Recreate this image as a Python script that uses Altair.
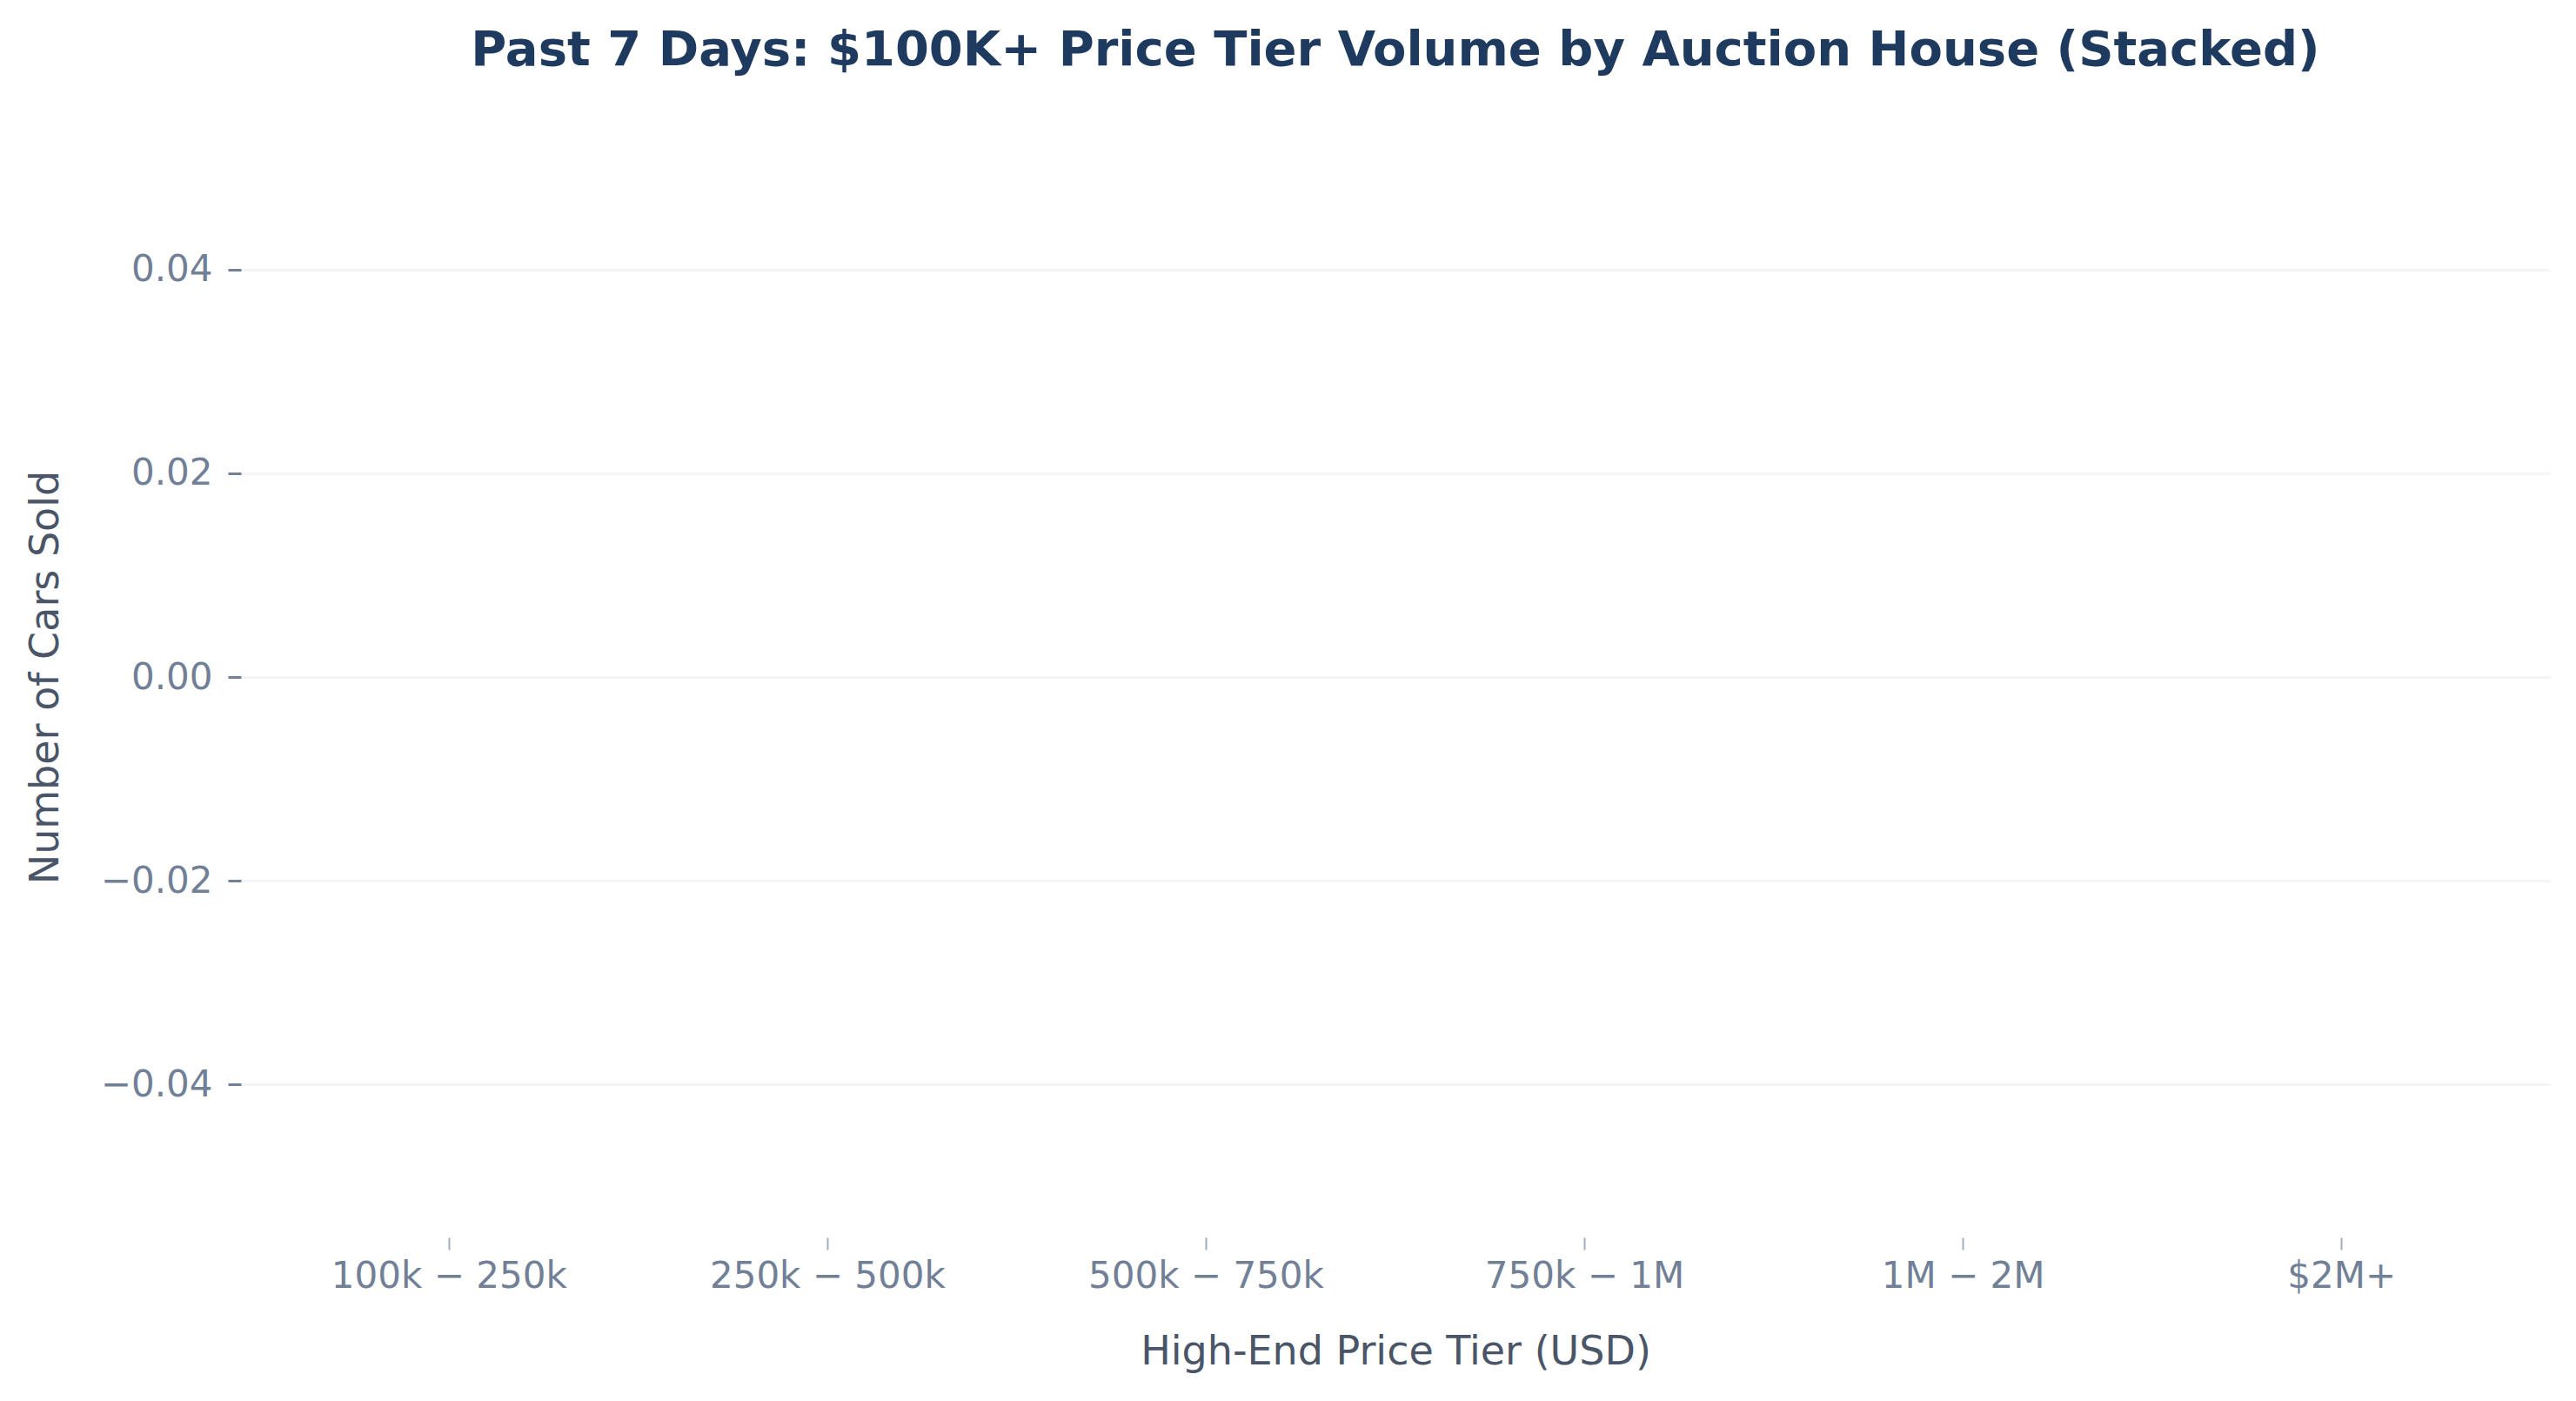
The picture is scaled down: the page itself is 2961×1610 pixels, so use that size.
import altair as alt
import pandas as pd

# Price tiers as rendered on the x axis (matplotlib mathtext ate the "$" pairs)
tiers = ["100k − 250k", "250k − 500k", "500k − 750k", "750k − 1M", "1M − 2M", "$2M+"]
# No sales recorded in the past 7 days for any tier -> empty stacks
cars_sold = [0, 0, 0, 0, 0, 0]
y_ticks = [-0.04, -0.02, 0.0, 0.02, 0.04]

df = pd.DataFrame({"tier": tiers, "count": cars_sold})

FONT = "DejaVu Sans"

chart = (
    alt.Chart(df)
    .mark_bar(color="#4c78a8")
    .encode(
        x=alt.X(
            "tier:N",
            sort=tiers,
            scale=alt.Scale(domain=tiers, paddingInner=0.2, paddingOuter=0.15),
            axis=alt.Axis(
                title="High-End Price Tier (USD)",
                labelAngle=0,
                labelFontSize=42,
                labelColor="#718096",
                labelPadding=10,
                labelLimit=0,
                tickColor="#a0aec0",
                tickSize=14,
                tickWidth=2,
                domain=False,
                grid=False,
                titleFontSize=46,
                titleColor="#4a5568",
                titleFontWeight="normal",
                titlePadding=44,
            ),
        ),
        y=alt.Y(
            "count:Q",
            stack="zero",
            scale=alt.Scale(domain=[-0.055, 0.055], nice=False, zero=False),
            axis=alt.Axis(
                title="Number of Cars Sold",
                values=y_ticks,
                format=".2f",
                labelFontSize=42,
                labelColor="#718096",
                labelPadding=18,
                tickColor="#718096",
                tickSize=15,
                tickWidth=3,
                domain=False,
                grid=True,
                gridColor="#f3f5f7",
                gridWidth=3,
                titleFontSize=46,
                titleColor="#4a5568",
                titleFontWeight="normal",
                titlePadding=39,
            ),
        ),
    )
    .properties(
        width=2654,
        height=1288,
        title=alt.TitleParams(
            "Past 7 Days: $100K+ Price Tier Volume by Auction House (Stacked)",
            fontSize=56,
            fontWeight="bold",
            color="#1e3a5f",
            font=FONT,
            anchor="middle",
            baseline="alphabetic",
            offset=3,
        ),
        autosize=alt.AutoSizeParams(type="none"),
        padding={"left": 269, "top": 126, "right": 10, "bottom": 174},
    )
    .configure(font=FONT, background="white")
    .configure_view(stroke=None)
    .configure_axis(labelFont=FONT, titleFont=FONT)
)

chart.save("out.html", embed_options={"renderer": "svg", "actions": False})
